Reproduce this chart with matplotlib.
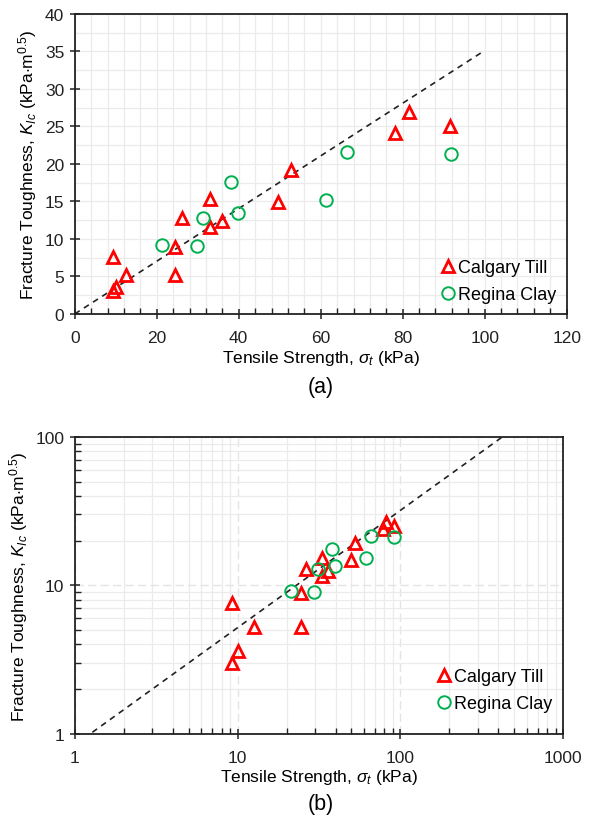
import matplotlib.pyplot as plt
from matplotlib.ticker import MultipleLocator, LogLocator, NullFormatter
import numpy as np

plt.rcParams['font.family'] = ['Liberation Sans', 'DejaVu Sans']
plt.rcParams['mathtext.fontset'] = 'custom'
plt.rcParams['mathtext.it'] = 'Liberation Sans:italic'
plt.rcParams['mathtext.rm'] = 'Liberation Sans'

# Calgary Till: tensile strength (kPa) and fracture toughness (kPa.m^0.5)
till_sigma = [9.3, 9.3, 10.0, 12.6, 24.4, 24.4, 26.2, 32.9, 32.9, 36.0, 49.6, 52.8, 78.0, 81.5, 91.5]
till_k = [7.6, 3.0, 3.6, 5.2, 8.9, 5.2, 12.8, 15.3, 11.6, 12.4, 14.9, 19.2, 24.1, 26.9, 25.1]

# Regina Clay
clay_sigma = [21.3, 29.7, 31.3, 39.7, 38.2, 61.4, 66.3, 91.7]
clay_k = [9.2, 9.0, 12.8, 13.4, 17.6, 15.2, 21.6, 21.3]

# trend lines
lin_slope = 0.351
pow_coef = 0.84
pow_exp = 0.79

red = '#ff0000'
green = '#00b050'
fs = 12.5
xlab = r'Tensile Strength, $\sigma_t$ (kPa)'
ylab = r'Fracture Toughness, $K_{Ic}$ (kPa$\cdot$m$^{0.5}$)'

fig = plt.figure(figsize=(6.08, 8.2), dpi=100)
ax1 = fig.add_axes([0.123, 0.616, 0.809, 0.366])
ax2 = fig.add_axes([0.123, 0.104, 0.803, 0.362])


def style(ax):
    for s in ax.spines.values():
        s.set_linewidth(1.3)
        s.set_color('#222222')
    ax.tick_params(which='major', direction='inout', length=7, width=1.1, labelsize=fs, colors='#222222')
    ax.tick_params(which='minor', direction='in', length=4, width=1.0, colors='#222222')
    ax.tick_params(axis='x', pad=8)
    ax.tick_params(axis='y', pad=4)
    ax.set_axisbelow(True)


def draw_points(ax, anchor_y):
    ax.plot(till_sigma, till_k, linestyle='none', marker='^', markersize=9,
            markerfacecolor='none', markeredgecolor=red, markeredgewidth=2.0,
            label='Calgary Till', zorder=3)
    ax.plot(clay_sigma, clay_k, linestyle='none', marker='o', markersize=9,
            markerfacecolor='none', markeredgecolor=green, markeredgewidth=1.4,
            label='Regina Clay', zorder=3)
    ax.legend(loc='lower right', bbox_to_anchor=(1.0, anchor_y), frameon=False,
              fontsize=fs + 0.5, handletextpad=0.0, handlelength=1.1,
              borderaxespad=0.3, labelspacing=0.55, borderpad=0.3)


# (a) linear axes
style(ax1)
xs = np.array([0, 100])
ax1.plot(xs, lin_slope * xs, color='#222222', linestyle=(0, (3.5, 3)), linewidth=1.2, zorder=2)
draw_points(ax1, 0.0)
ax1.set_xlim(0, 120)
ax1.set_ylim(0, 40)
ax1.xaxis.set_major_locator(MultipleLocator(20))
ax1.xaxis.set_minor_locator(MultipleLocator(4))
ax1.yaxis.set_major_locator(MultipleLocator(5))
ax1.yaxis.set_minor_locator(MultipleLocator(2.5))
ax1.tick_params(axis='y', which='minor', length=0)
ax1.grid(which='both', color='#ebebeb', linewidth=0.9)
ax1.set_xlabel(xlab, fontsize=fs, labelpad=2)
ax1.set_ylabel(ylab, fontsize=fs, labelpad=4)
fig.text(0.528, 0.527, '(a)', ha='center', va='center', fontsize=15.5)

# (b) log-log axes
style(ax2)
ax2.set_xscale('log')
ax2.set_yscale('log')
xl = np.array([1.0, 1000.0])
ax2.plot(xl, pow_coef * xl ** pow_exp, color='#222222', linestyle=(0, (3.5, 3)), linewidth=1.2, zorder=2)
draw_points(ax2, 0.037)
ax2.set_xlim(1, 1000)
ax2.set_ylim(1, 100)
for axis in (ax2.xaxis, ax2.yaxis):
    axis.set_major_locator(LogLocator(base=10))
    axis.set_minor_locator(LogLocator(base=10, subs=np.arange(2, 10)))
    axis.set_minor_formatter(NullFormatter())
ax2.xaxis.set_major_formatter(plt.FuncFormatter(lambda v, p: f'{v:g}'))
ax2.yaxis.set_major_formatter(plt.FuncFormatter(lambda v, p: f'{v:g}'))
ax2.grid(which='minor', color='#ebebeb', linewidth=0.9)
ax2.grid(which='major', color='#e4e4e4', linewidth=1.0, linestyle=(0, (6, 3)))
ax2.set_xlabel(xlab, fontsize=fs, labelpad=2)
ax2.set_ylabel(ylab, fontsize=fs, labelpad=4)
fig.text(0.528, 0.0195, '(b)', ha='center', va='center', fontsize=15.5)

fig.savefig('out.png', dpi=100, facecolor='white')
